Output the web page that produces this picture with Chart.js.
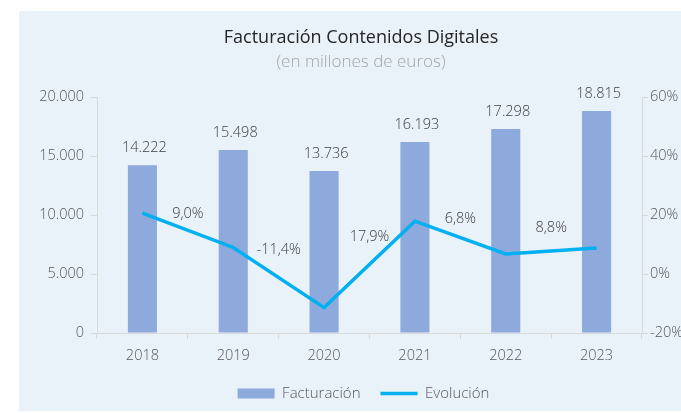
<!DOCTYPE html>
<html>
<head>
<meta charset="utf-8">
<script src="https://cdn.jsdelivr.net/npm/chart.js@4.4.1/dist/chart.umd.min.js"></script>
<style>
  html, body { margin: 0; padding: 0; background: #fff; }
  #wrap { width: 681px; height: 413px; }
</style>
</head>
<body>
<div id="wrap"><canvas id="chart" width="681" height="413"></canvas></div>
<script>
var years = ["2018", "2019", "2020", "2021", "2022", "2023"];
var facturacion = [14222, 15498, 13736, 16193, 17298, 18815];
var evolucion = [20.6, 9.0, -11.4, 17.9, 6.8, 8.8];
// vertical nudge of each % label (px), first one not shown
var evoLabelDy = [null, -34, -58, 16, -35, -20];

function miles(v) {
  return String(v).replace(/\B(?=(\d{3})+(?!\d))/g, ".");
}
function pct(v) {
  return v.toFixed(1).replace(".", ",") + "%";
}

Chart.defaults.font.family = "'Open Sans', Lato, sans-serif";
Chart.defaults.font.weight = "300";
Chart.defaults.color = "#595959";

var panel = {
  id: "panel",
  beforeDraw: function (chart) {
    var ctx = chart.ctx;
    ctx.save();
    ctx.fillStyle = "#E9F1F9";
    ctx.fillRect(19, 11, 662, 400);
    ctx.textAlign = "center";
    ctx.textBaseline = "middle";
    ctx.fillStyle = "#262626";
    ctx.font = "18px 'Open Sans'";
    ctx.fillText("Facturación Contenidos Digitales", 361, 38);
    ctx.fillStyle = "#A6A6A6";
    ctx.font = "300 17px 'Open Sans'";
    ctx.fillText("(en millones de euros)", 361, 62);
    ctx.restore();
  },
  afterLayout: function (chart) {
    // legend is centred on the panel, not on the canvas
    chart.legend.left += 46;
  }
};

var valueLabels = {
  id: "valueLabels",
  afterDatasetsDraw: function (chart) {
    var ctx = chart.ctx;
    ctx.save();
    ctx.font = "300 14.5px 'Open Sans'";
    ctx.fillStyle = "#404040";
    ctx.textAlign = "center";
    ctx.textBaseline = "middle";
    var bars = chart.getDatasetMeta(0).data;
    bars.forEach(function (b, i) {
      ctx.fillText(miles(facturacion[i]), b.x + 2, b.y - 17);
    });
    var pts = chart.getDatasetMeta(1).data;
    var half = (pts[1].x - pts[0].x) / 2;
    pts.forEach(function (p, i) {
      if (evoLabelDy[i] === null) return;
      ctx.fillText(pct(evolucion[i]), p.x - half, p.y + evoLabelDy[i]);
    });
    ctx.restore();
  }
};

var ctx = document.getElementById("chart").getContext("2d");

var chart = new Chart(ctx, {
  data: {
    labels: years,
    datasets: [
      {
        type: "bar",
        label: "Facturación",
        data: facturacion,
        backgroundColor: "#8EA9DB",
        categoryPercentage: 1,
        barPercentage: 0.32,
        yAxisID: "y",
        order: 1
      },
      {
        type: "line",
        label: "Evolución",
        data: evolucion,
        borderColor: "#00B0F0",
        backgroundColor: "#00B0F0",
        borderWidth: 3.5,
        pointRadius: 0,
        tension: 0,
        yAxisID: "y1",
        order: 0
      }
    ]
  },
  options: {
    responsive: false,
    animation: false,
    layout: { padding: { top: 97, bottom: 2, left: 0, right: 0 } },
    plugins: {
      tooltip: { enabled: false },
      legend: {
        position: "bottom",
        labels: {
          usePointStyle: true,
          pointStyleWidth: 37,
          boxHeight: 10,
          padding: 20,
          color: "#595959",
          font: { size: 15 },
          sort: function (a, b) { return a.datasetIndex - b.datasetIndex; },
          generateLabels: function (chart) {
            var items = Chart.defaults.plugins.legend.labels.generateLabels(chart);
            items.forEach(function (it) {
              it.pointStyle = it.datasetIndex === 0 ? "rect" : "line";
            });
            return items;
          }
        }
      }
    },
    scales: {
      x: {
        grid: { drawOnChartArea: false, color: "#D9D9D9", tickLength: 6, offset: true },
        border: { color: "#D9D9D9" },
        ticks: { padding: 8, font: { size: 14.5 }, color: "#595959" },
        afterFit: function (s) { s.height = 33; }
      },
      y: {
        position: "left",
        min: 0,
        max: 20000,
        grid: { drawOnChartArea: false, color: "#D9D9D9", tickLength: 6 },
        border: { color: "#D9D9D9" },
        ticks: {
          stepSize: 5000,
          padding: 7,
          font: { size: 14.5 },
          color: "#595959",
          callback: function (v) { return miles(v); }
        },
        afterFit: function (s) { s.width = 97; }
      },
      y1: {
        position: "right",
        min: -20,
        max: 60,
        grid: { drawOnChartArea: false, color: "#D9D9D9", tickLength: 6 },
        border: { color: "#D9D9D9" },
        ticks: {
          stepSize: 20,
          padding: 2,
          font: { size: 14.5 },
          color: "#595959",
          callback: function (v) { return v + "%"; }
        },
        afterFit: function (s) { s.width = 39; }
      }
    }
  },
  plugins: [panel, valueLabels]
});
</script>
</body>
</html>
